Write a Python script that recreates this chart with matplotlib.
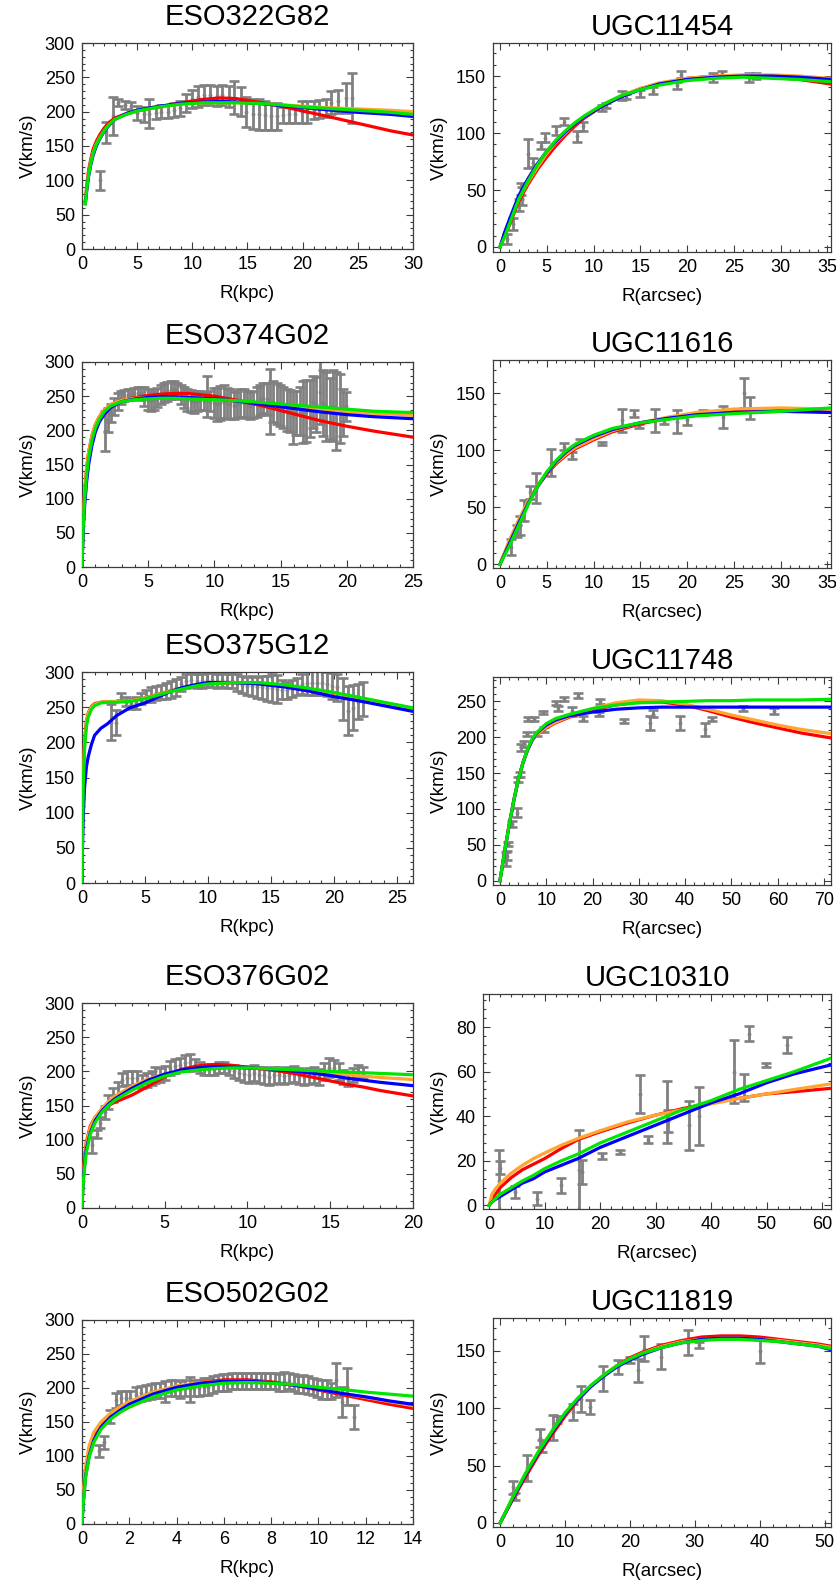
import matplotlib
matplotlib.use("Agg")
import matplotlib.pyplot as plt
from matplotlib.ticker import MultipleLocator, AutoMinorLocator

plt.rcParams['font.family'] = ['Liberation Sans', 'DejaVu Sans']

# ---------------- ESO322G82 ----------------
eso322_r = [1.6, 2.2, 2.8, 3.3, 3.9, 4.4, 5.0, 5.6, 6.1, 6.7,
            7.2, 7.8, 8.3, 8.9, 9.4, 10.0, 10.5, 11.1, 11.6, 12.2,
            12.7, 13.3, 13.8, 14.4, 14.9, 15.5, 16.0, 16.6, 17.1, 17.7,
            18.2, 18.8, 19.3, 19.9, 20.4, 21.0, 21.5, 22.1, 22.6, 23.2,
            23.9, 24.5]
eso322_v = [100, 170, 194, 213, 210, 208, 198, 196, 197, 198,
            200, 200, 202, 205, 213, 218, 222, 224, 224, 223,
            224, 222, 220, 215, 200, 197, 196, 195, 193, 193,
            195, 196, 196, 199, 199, 203, 204, 205, 213, 215,
            220, 220]
eso322_e = [14, 15, 28, 5, 6, 6, 10, 11, 21, 9,
            9, 9, 10, 11, 13, 13, 15, 15, 15, 15,
            15, 15, 24, 21, 22, 22, 22, 21, 19, 19,
            12, 12, 12, 16, 16, 13, 13, 13, 17, 17,
            22, 37]
eso322_fit_r = [0.3, 0.45, 0.6, 0.8, 1, 1.3, 1.6, 2, 2.5, 3, 4, 5, 7, 9, 11, 12.5, 14, 16, 18, 20, 22, 25, 28, 30]
eso322_red = [70, 95, 115, 131, 145, 157, 166, 176, 185, 191, 197, 201, 207, 213, 218, 220, 219, 214, 208, 201, 194, 183, 172, 166]
eso322_orange = [68, 92, 110, 127, 140, 153, 162, 172, 182, 189, 196, 201, 207, 211, 213, 213, 213, 212, 210, 208, 206, 204, 202, 200]
eso322_blue = [66, 88, 106, 123, 136, 150, 160, 171, 181, 189, 197, 202, 208, 212, 214, 215, 214, 212, 209, 206, 203, 199, 196, 193]
eso322_green = [66, 90, 108, 125, 139, 152, 161, 172, 182, 189, 196, 201, 207, 211, 213, 213, 213, 212, 210, 207, 205, 202, 199, 196]

# ---------------- UGC11454 ----------------
ugc11454_r = [0.8, 1.4, 2.0, 2.2, 2.4, 3.0, 3.5, 4.4, 4.8, 6.0,
              6.8, 8.2, 8.9, 10.9, 11.3, 13.0, 13.5, 15.0, 16.4, 18.9,
              19.4, 22.8, 23.7, 26.6, 27.4]
ugc11454_v = [7, 20, 37, 51, 45, 82, 74, 89, 96, 102,
              110, 97, 106, 122, 124, 133, 132, 135, 137, 142,
              151, 149, 152, 149, 150]
ugc11454_e = [4, 5, 5, 5, 8, 13, 4, 3, 4, 4,
              3, 5, 4, 3, 2, 4, 2, 3, 3, 3,
              3, 4, 2, 4, 3]
ugc11454_fit_r = [0, 0.5, 1, 2, 3, 4, 5, 6, 7, 8, 9, 11, 13, 15, 17, 20, 23, 26, 29, 32, 35.4]
ugc11454_red = [0, 10, 19, 40, 55, 68, 79, 89, 98, 106, 113, 124, 132, 139, 143, 148, 150, 150, 149, 147, 143]
ugc11454_orange = [0, 12, 22, 42, 57, 70, 82, 92, 100, 108, 114, 125, 133, 139, 144, 148, 150, 151, 151, 150, 148]
ugc11454_blue = [0, 13, 24, 45, 60, 73, 84, 93, 101, 108, 114, 124, 132, 138, 143, 147, 149, 150, 150, 149, 147]
ugc11454_green = [0, 9, 20, 42, 58, 72, 84, 94, 102, 109, 115, 125, 133, 138, 142, 146, 148, 149, 148, 147, 145]

# ---------------- ESO374G02 ----------------
eso374_r = [1.70, 1.95, 2.20, 2.45, 2.70, 2.95, 3.20, 3.45, 3.70, 3.95,
            4.20, 4.45, 4.70, 4.95, 5.20, 5.45, 5.70, 5.95, 6.20, 6.45,
            6.70, 6.95, 7.20, 7.45, 7.70, 7.95, 8.20, 8.45, 8.70, 8.95,
            9.20, 9.45, 9.70, 9.95, 10.20, 10.45, 10.70, 10.95, 11.20, 11.45,
            11.70, 11.95, 12.20, 12.45, 12.70, 12.95, 13.20, 13.45, 13.70, 13.95,
            14.20, 14.45, 14.70, 14.95, 15.20, 15.45, 15.70, 15.95, 16.20, 16.45,
            16.70, 16.95, 17.20, 17.45, 17.70, 17.95, 18.20, 18.45, 18.70, 18.95,
            19.20, 19.45, 19.70, 19.95]
eso374_v = [199, 215, 225, 235, 242, 248, 251, 252, 253, 254,
            255, 254, 250, 245, 243, 245, 248, 252, 255, 257,
            259, 260, 258, 253, 248, 245, 243, 242, 243, 244,
            243, 250, 243, 240, 238, 240, 242, 240, 238, 236,
            238, 240, 240, 238, 236, 238, 242, 245, 247, 246,
            242, 242, 240, 236, 233, 230, 228, 219, 225, 228,
            227, 228, 232, 242, 238, 256, 240, 235, 232, 236,
            228, 232, 226, 235]
eso374_e = [29, 18, 13, 12, 12, 9, 8, 8, 8, 8,
            8, 9, 14, 15, 15, 15, 14, 14, 14, 14,
            13, 12, 12, 14, 16, 16, 16, 16, 15, 14,
            13, 30, 15, 22, 24, 25, 24, 22, 22, 20,
            20, 20, 20, 20, 20, 20, 22, 22, 22, 24,
            48, 30, 30, 30, 30, 31, 31, 39, 32, 35,
            45, 45, 42, 38, 40, 47, 48, 50, 45, 52,
            57, 50, 35, 21]
eso374_fit_r = [0, 0.05, 0.1, 0.2, 0.35, 0.5, 0.75, 1, 1.3, 1.7, 2.2, 3, 4, 5, 6, 7, 8, 10, 12, 14, 16, 18, 20, 22, 25]
eso374_red = [0, 40, 70, 110, 145, 168, 192, 208, 220, 230, 238, 244, 248, 251, 253, 254, 254, 250, 243, 234, 224, 214, 206, 199, 190]
eso374_orange = [0, 40, 70, 110, 145, 168, 192, 208, 220, 230, 238, 244, 247, 248, 248, 248, 247, 245, 242, 238, 234, 230, 227, 225, 222]
eso374_blue = [0, 30, 55, 90, 125, 150, 178, 197, 212, 224, 234, 242, 246, 248, 249, 249, 248, 246, 242, 237, 232, 227, 223, 220, 217]
eso374_green = [0, 35, 62, 100, 135, 160, 186, 203, 216, 228, 236, 242, 245, 246, 247, 247, 246, 245, 243, 240, 237, 234, 231, 228, 226]

# ---------------- UGC11616 ----------------
ugc11616_r = [1.15, 1.8, 2.1, 2.6, 3.2, 3.8, 5.4, 6.8, 7.7, 8.6,
              10.9, 13.0, 14.3, 14.9, 16.6, 17.5, 18.9, 20.0, 21.7, 23.8,
              26.1, 26.7]
ugc11616_v = [15, 29, 34, 47, 63, 67, 89, 103, 95, 108,
              106, 126, 132, 121, 126, 125, 125, 126, 133, 129,
              150, 137]
ugc11616_e = [7, 5, 8, 9, 6, 13, 12, 3, 3, 2,
              1.5, 10, 3, 2, 10, 2, 10, 4, 2, 10,
              13, 10]
ugc11616_fit_r = [0, 1, 2, 3, 4, 5, 6, 7, 8, 10, 12, 15, 18, 21, 25, 30, 35.4]
ugc11616_red = [0, 20, 38, 54, 68, 79, 88, 95, 101, 109, 116, 123, 128, 132, 135, 136, 133]
ugc11616_orange = [0, 21, 39, 55, 69, 80, 89, 96, 102, 110, 117, 124, 129, 133, 136, 137, 136]
ugc11616_blue = [0, 18, 36, 53, 68, 80, 90, 98, 104, 112, 118, 124, 128, 131, 133, 134, 133]
ugc11616_green = [0, 16, 34, 52, 68, 81, 91, 99, 105, 113, 119, 124, 127, 130, 132, 134, 137]

# ---------------- ESO375G12 ----------------
eso375_r = [2.3, 2.7, 3.1, 3.5, 3.9, 4.3, 4.7, 5.1, 5.5, 5.9,
            6.3, 6.7, 7.1, 7.5, 7.9, 8.3, 8.7, 9.1, 9.5, 9.9,
            10.3, 10.7, 11.1, 11.5, 11.9, 12.3, 12.7, 13.1, 13.5, 13.9,
            14.3, 14.7, 15.1, 15.5, 15.9, 16.3, 16.7, 17.1, 17.5, 17.9,
            18.3, 18.7, 19.1, 19.5, 19.9, 20.3, 20.7, 21.1, 21.5, 21.9,
            22.3]
eso375_v = [229, 228, 265, 258, 255, 256, 262, 266, 268, 270,
            272, 273, 275, 278, 283, 287, 288, 287, 287, 288,
            288, 287, 288, 287, 287, 285, 282, 280, 280, 278,
            278, 277, 277, 276, 275, 274, 276, 280, 283, 284,
            284, 284, 284, 283, 280, 278, 262, 245, 249, 258,
            262]
eso375_e = [26, 18, 5, 6, 7, 8, 8, 9, 10, 10,
            10, 12, 12, 12, 10, 10, 10, 10, 10, 10,
            10, 10, 10, 10, 10, 12, 12, 13, 14, 15,
            16, 18, 20, 20, 14, 12, 12, 12, 14, 17,
            17, 17, 17, 17, 18, 19, 30, 35, 32, 25,
            24]
eso375_fit_r = [0, 0.05, 0.1, 0.2, 0.35, 0.5, 0.75, 1, 1.5, 2, 2.75, 3.8, 5, 6, 7, 8, 9, 10, 12, 14, 16, 18, 20, 22, 24, 26.3]
eso375_red = [0, 100, 150, 200, 230, 242, 251, 255, 257, 258, 258, 259, 263, 268, 273, 277, 281, 283, 285, 284, 281, 276, 270, 263, 256, 248]
eso375_orange = [0, 98, 148, 198, 228, 241, 250, 254, 257, 258, 258, 259, 263, 268, 273, 277, 281, 283, 285, 284, 281, 276, 270, 263, 256, 248]
eso375_blue = [0, 60, 95, 135, 165, 180, 197, 210, 220, 226, 238, 249, 256, 264, 272, 278, 282, 285, 285, 283, 279, 273, 265, 259, 252, 244]
eso375_green = [0, 90, 140, 190, 222, 236, 247, 252, 256, 257, 257, 258, 262, 267, 272, 276, 280, 283, 285, 285, 282, 277, 271, 264, 257, 249]

# ---------------- UGC11748 ----------------
ugc11748_r = [1.2, 1.5, 1.8, 2.5, 3.6, 3.9, 4.3, 4.5, 5.2, 5.8,
              6.1, 7.3, 8.1, 9.2, 9.5, 12.0, 12.6, 13.8, 15.5, 16.9,
              18.0, 21.4, 21.6, 26.8, 32.4, 33.0, 38.9, 44.3, 45.7, 52.4,
              59.2]
ugc11748_v = [30, 35, 51, 79, 95, 141, 148, 186, 191, 205,
              225, 225, 205, 235, 211, 248, 240, 253, 236, 258,
              226, 232, 250, 223, 220, 233, 220, 211, 225, 240,
              237]
ugc11748_e = [10, 6, 3, 4, 6, 4, 4, 5, 4, 3,
              3, 3, 3, 2, 3, 3, 4, 3, 6, 3,
              3, 3, 3, 3, 10, 5, 10, 9, 3, 4,
              4]
ugc11748_fit_r = [0, 1, 2, 3, 4, 5, 6, 7, 8, 10, 12, 15, 20, 25, 30, 35, 40, 45, 50, 55, 60, 65, 71.5]
ugc11748_red = [0, 40, 78, 112, 142, 165, 183, 196, 204, 213, 220, 228, 238, 245, 249, 249, 245, 237, 228, 220, 213, 206, 199]
ugc11748_orange = [0, 40, 78, 112, 142, 165, 183, 196, 204, 214, 221, 229, 240, 248, 252, 251, 246, 239, 231, 224, 217, 211, 205]
ugc11748_blue = [0, 40, 78, 112, 142, 165, 183, 197, 206, 217, 224, 230, 235, 239, 241, 242, 242, 242, 242, 242, 242, 242, 242]
ugc11748_green = [0, 40, 78, 112, 142, 165, 184, 198, 207, 219, 226, 232, 240, 245, 248, 249, 250, 251, 251, 252, 252, 252, 253]

# ---------------- ESO376G02 ----------------
eso376_r = [0.6, 0.9, 1.1, 1.4, 1.6, 1.9, 2.2, 2.4, 2.7, 3.0,
            3.3, 3.6, 3.9, 4.2, 4.4, 4.7, 5.0, 5.3, 5.6, 5.9,
            6.2, 6.5, 6.8, 7.1, 7.4, 7.7, 8.0, 8.3, 8.6, 8.9,
            9.2, 9.5, 9.8, 10.1, 10.4, 10.7, 11.0, 11.3, 11.6, 11.9,
            12.2, 12.5, 12.8, 13.1, 13.4, 13.7, 14.0, 14.3, 14.6, 14.9,
            15.2, 15.5, 15.8, 16.1, 16.4, 16.7, 17.0]
eso376_v = [92, 108, 125, 140, 155, 165, 175, 188, 190, 190,
            190, 185, 187, 190, 195, 195, 198, 205, 208, 210,
            212, 213, 210, 205, 203, 203, 203, 205, 205, 202,
            200, 198, 196, 195, 198, 195, 194, 192, 194, 195,
            193, 195, 196, 193, 192, 193, 195, 192, 200, 205,
            205, 200, 192, 188, 195, 200, 198]
eso376_e = [12, 6, 8, 10, 10, 10, 10, 10, 10, 10,
            10, 10, 10, 10, 12, 10, 10, 10, 10, 10,
            12, 12, 8, 8, 8, 8, 8, 8, 8, 8,
            10, 10, 12, 12, 12, 12, 12, 12, 12, 12,
            12, 12, 12, 12, 12, 12, 12, 12, 12, 14,
            12, 12, 10, 10, 10, 10, 8]
eso376_fit_r = [0, 0.05, 0.1, 0.25, 0.5, 0.8, 1.2, 1.6, 2, 3, 4, 5, 6, 7, 8, 9, 10, 11, 12, 13, 14, 15, 16, 17, 18, 20]
eso376_red = [0, 40, 60, 95, 120, 133, 143, 150, 155, 165, 178, 192, 203, 208, 210, 209, 206, 203, 200, 196, 191, 186, 181, 177, 172, 164]
eso376_orange = [0, 35, 55, 92, 118, 133, 146, 156, 164, 178, 189, 196, 200, 203, 205, 205, 205, 204, 203, 201, 199, 197, 195, 193, 191, 188]
eso376_blue = [0, 30, 50, 85, 110, 128, 142, 152, 160, 175, 187, 196, 202, 205, 207, 206, 205, 204, 202, 200, 197, 194, 190, 187, 184, 179]
eso376_green = [0, 28, 45, 80, 108, 125, 140, 150, 158, 172, 184, 193, 199, 202, 204, 205, 205, 204, 203, 202, 201, 200, 199, 198, 197, 195]

# ---------------- UGC10310 ----------------
ugc10310_r = [1.7, 1.9, 4.7, 8.7, 12.9, 16.2, 16.8, 20.3, 23.5, 27.1,
              28.6, 32.0, 32.3, 36.1, 37.8, 44.1, 45.9, 46.8, 49.9, 53.6]
ugc10310_v = [11, 17, 6, 3, 9, 16, 15, 22, 24, 50,
              29.5, 42, 38, 36, 40, 60, 53, 77, 63, 72]
ugc10310_e = [14, 3, 2.5, 3, 3.5, 18, 5.5, 1.4, 1, 8.5,
              1.5, 14, 5, 11, 13, 14, 6, 3.4, 1, 3.7]
ugc10310_fit_r = [0, 0.5, 1, 2, 4, 6, 8, 10, 13, 16, 20, 25, 30, 35, 40, 45, 50, 55, 61.6]
ugc10310_red = [0, 2.5, 4.5, 8, 12.5, 16, 18.5, 21, 25.5, 29.5, 33, 37, 40.5, 43.5, 46, 48, 50, 51, 52.5]
ugc10310_orange = [0, 5, 7, 10, 14.5, 18, 21, 23.5, 27, 30, 33.5, 37.5, 40.5, 43, 45.5, 48, 50, 52, 54.5]
ugc10310_blue = [0, 1.5, 2.5, 4, 7, 10, 12, 15, 18, 21, 26, 31, 36, 41, 46, 50, 55, 59, 63]
ugc10310_green = [0, 1.5, 2.7, 5, 8, 11, 13.5, 16.5, 20, 23, 28, 33, 38, 43, 47, 52, 56, 60, 66]

# ---------------- ESO502G02 ----------------
eso502_r = [0.7, 0.95, 1.2, 1.45, 1.65, 1.85, 2.05, 2.3, 2.5, 2.7,
            2.9, 3.1, 3.3, 3.5, 3.75, 3.95, 4.15, 4.35, 4.55, 4.75,
            4.95, 5.15, 5.35, 5.55, 5.75, 5.95, 6.15, 6.35, 6.55, 6.75,
            6.95, 7.15, 7.35, 7.55, 7.75, 7.95, 8.15, 8.35, 8.55, 8.75,
            8.95, 9.15, 9.35, 9.55, 9.75, 9.95, 10.15, 10.35, 10.55, 10.75,
            11.0, 11.2, 11.5]
eso502_v = [107, 120, 158, 182, 185, 185, 186, 190, 192, 193,
            195, 196, 196, 195, 200, 200, 198, 200, 198, 200,
            200, 202, 202, 205, 207, 208, 208, 210, 210, 210,
            210, 210, 210, 210, 210, 210, 210, 208, 210, 210,
            208, 205, 206, 204, 202, 200, 198, 198, 196, 212,
            180, 202, 157]
eso502_e = [9, 9, 10, 11, 10, 10, 10, 11, 11, 11,
            11, 11, 11, 15, 12, 12, 12, 12, 18, 12,
            12, 12, 12, 12, 12, 12, 12, 12, 12, 12,
            12, 12, 12, 12, 12, 12, 12, 12, 14, 12,
            13, 13, 13, 13, 13, 13, 14, 14, 12, 25,
            22, 27, 18]
eso502_fit_r = [0, 0.05, 0.15, 0.3, 0.5, 0.8, 1.2, 1.6, 2, 3, 4, 5, 6, 7, 8, 9, 10, 11, 12, 13, 14]
eso502_red = [0, 40, 80, 110, 130, 145, 157, 165, 172, 188, 200, 208, 212, 212, 209, 204, 197, 190, 183, 176, 170]
eso502_orange = [0, 45, 85, 115, 135, 150, 163, 172, 180, 194, 203, 208, 210, 210, 208, 204, 198, 192, 186, 180, 174]
eso502_blue = [0, 30, 70, 100, 123, 142, 157, 167, 176, 191, 201, 207, 210, 210, 208, 204, 198, 192, 187, 181, 176]
eso502_green = [0, 30, 68, 98, 120, 139, 154, 164, 172, 187, 197, 203, 207, 208, 207, 205, 201, 198, 194, 191, 188]

# ---------------- UGC11819 ----------------
ugc11819_r = [2.0, 2.3, 4.1, 6.2, 6.4, 8.2, 8.7, 11.3, 12.4, 13.9,
              15.9, 18.2, 20.0, 21.3, 22.2, 24.8, 29.0, 30.7, 40.1]
ugc11819_v = [31, 23, 48, 74, 67, 83, 90, 97, 108, 101,
              126, 136, 142, 133, 152, 145, 157, 155, 150]
ugc11819_e = [6, 3, 11, 8, 5, 11, 3, 7, 11, 6,
              11, 6, 3, 10, 11, 11, 11, 2.5, 11]
ugc11819_fit_r = [0, 2, 4, 6, 8, 10, 12, 14, 16, 18, 20, 22, 25, 28, 31, 34, 37, 40, 43, 46, 49, 51]
ugc11819_red = [0, 21, 41, 60, 77, 93, 107, 119, 129, 137, 144, 149, 155, 159, 162, 163, 163, 162, 160, 158, 156, 154]
ugc11819_orange = [0, 23, 44, 63, 80, 95, 108, 119, 129, 137, 143, 148, 154, 158, 160, 161, 161, 160, 159, 157, 155, 153]
ugc11819_blue = [0, 22, 43, 62, 79, 95, 108, 119, 128, 136, 142, 147, 153, 157, 160, 161, 161, 160, 158, 156, 154, 151]
ugc11819_green = [0, 23, 44, 63, 80, 96, 109, 120, 129, 137, 143, 148, 153, 157, 159, 160, 160, 159, 158, 156, 154, 152]

W, H = 837, 1586
fig = plt.figure(figsize=(W / 100, H / 100), dpi=100)

# box in pixels (left, top, right, bottom), limits, tick steps, title pad, label
panels = [
    ("ESO322G82", (82, 43, 413, 249), (0, 30), (0, 300), 5, 50, 13, "R(kpc)",
     eso322_r, eso322_v, eso322_e, eso322_fit_r, eso322_red, eso322_orange, eso322_blue, eso322_green),
    ("UGC11454", (493, 43, 831, 252), (-0.75, 35.4), (-4.4, 179), 5, 50, 6, "R(arcsec)",
     ugc11454_r, ugc11454_v, ugc11454_e, ugc11454_fit_r, ugc11454_red, ugc11454_orange, ugc11454_blue, ugc11454_green),
    ("ESO374G02", (82, 362, 413, 567), (0, 25), (0, 300), 5, 50, 13, "R(kpc)",
     eso374_r, eso374_v, eso374_e, eso374_fit_r, eso374_red, eso374_orange, eso374_blue, eso374_green),
    ("UGC11616", (493, 360, 831, 568), (-0.75, 35.4), (-3.3, 179), 5, 50, 6, "R(arcsec)",
     ugc11616_r, ugc11616_v, ugc11616_e, ugc11616_fit_r, ugc11616_red, ugc11616_orange, ugc11616_blue, ugc11616_green),
    ("ESO375G12", (82, 672, 413, 883), (0, 26.3), (0, 300), 5, 50, 13, "R(kpc)",
     eso375_r, eso375_v, eso375_e, eso375_fit_r, eso375_red, eso375_orange, eso375_blue, eso375_green),
    ("UGC11748", (493, 677, 831, 885), (-1.5, 71.5), (-6, 284), 10, 50, 6, "R(arcsec)",
     ugc11748_r, ugc11748_v, ugc11748_e, ugc11748_fit_r, ugc11748_red, ugc11748_orange, ugc11748_blue, ugc11748_green),
    ("ESO376G02", (82, 1003, 413, 1208), (0, 20), (0, 300), 5, 50, 13, "R(kpc)",
     eso376_r, eso376_v, eso376_e, eso376_fit_r, eso376_red, eso376_orange, eso376_blue, eso376_green),
    ("UGC10310", (483, 994, 831, 1209), (-1.1, 61.6), (-1.6, 94.8), 10, 20, 6, "R(arcsec)",
     ugc10310_r, ugc10310_v, ugc10310_e, ugc10310_fit_r, ugc10310_red, ugc10310_orange, ugc10310_blue, ugc10310_green),
    ("ESO502G02", (82, 1320, 413, 1524), (0, 14), (0, 300), 2, 50, 13, "R(kpc)",
     eso502_r, eso502_v, eso502_e, eso502_fit_r, eso502_red, eso502_orange, eso502_blue, eso502_green),
    ("UGC11819", (493, 1318, 831, 1527), (-1.1, 51.0), (-3.5, 178.6), 10, 50, 6, "R(arcsec)",
     ugc11819_r, ugc11819_v, ugc11819_e, ugc11819_fit_r, ugc11819_red, ugc11819_orange, ugc11819_blue, ugc11819_green),
]

frame_col = "#3c3c3c"

for (title, box, xlim, ylim, xstep, ystep, tpad, xlabel,
     r, v, e, fr, red, orange, blue, green) in panels:
    l, t, rr, b = box
    ax = fig.add_axes([l / W, 1 - b / H, (rr - l) / W, (b - t) / H])

    # data points with error bars
    ax.errorbar(r, v, yerr=e, fmt='.', color='#808080', ms=3.5,
                elinewidth=2.0, capsize=3.4, capthick=1.9, zorder=2)

    # the four fitted curves
    ax.plot(fr, red, color='#ff0000', lw=2.3, zorder=3)
    ax.plot(fr, orange, color='#ffa530', lw=2.3, zorder=4)
    ax.plot(fr, blue, color='#0000ff', lw=2.3, zorder=5)
    ax.plot(fr, green, color='#00e600', lw=2.3, zorder=6)

    ax.set_xlim(*xlim)
    ax.set_ylim(*ylim)
    ax.xaxis.set_major_locator(MultipleLocator(xstep))
    ax.yaxis.set_major_locator(MultipleLocator(ystep))
    ax.xaxis.set_minor_locator(AutoMinorLocator(4 if xstep == 2 else 5))
    ax.yaxis.set_minor_locator(AutoMinorLocator(5))
    ax.tick_params(which='both', direction='in', top=True, right=True,
                   color=frame_col, width=0.8, labelsize=13, pad=5)
    ax.tick_params(which='major', length=5)
    ax.tick_params(which='minor', length=2.5)
    for s in ax.spines.values():
        s.set_color(frame_col)
        s.set_linewidth(0.9)

    ax.set_title(title, fontsize=21, pad=tpad)
    ax.set_xlabel(xlabel, fontsize=13.5, labelpad=9)
    ax.set_ylabel("V(km/s)", fontsize=13.5, labelpad=6)

fig.savefig("out.png", dpi=100)
